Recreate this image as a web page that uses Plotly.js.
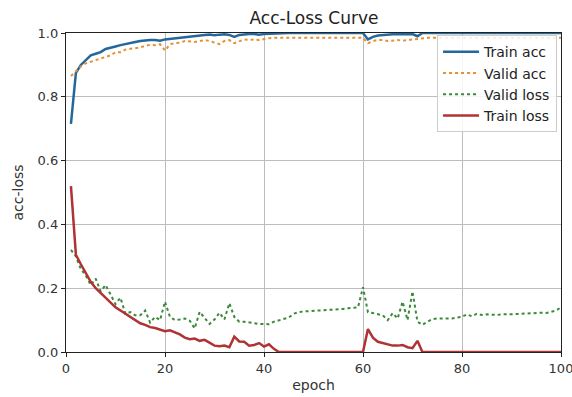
<!DOCTYPE html>
<html>
<head>
<meta charset="utf-8">
<script src="https://cdn.plot.ly/plotly-3.0.1.min.js"></script>
<style>html,body{margin:0;padding:0;background:#fff;}#chart{width:572px;height:397px;}</style>
</head>
<body>
<div id="chart"></div>
<script>
const epochs = [1,2,3,4,5,6,7,8,9,10,11,12,13,14,15,16,17,18,19,20,21,22,23,24,25,26,27,28,29,30,31,32,33,34,35,36,37,38,39,40,41,42,43,44,45,46,47,48,49,50,51,52,53,54,55,56,57,58,59,60,61,62,63,64,65,66,67,68,69,70,71,72,73,74,75,76,77,78,79,80,81,82,83,84,85,86,87,88,89,90,91,92,93,94,95,96,97,98,99,100];

const trainAcc = [0.715,0.875,0.900,0.915,0.930,0.935,0.940,0.950,0.955,0.958,
  0.962,0.966,0.968,0.972,0.975,0.977,0.978,0.978,0.976,0.980,
  0.982,0.983,0.985,0.988,0.990,0.990,0.992,0.994,0.995,0.993,
  0.995,0.996,0.994,0.988,0.994,0.996,0.997,0.997,0.995,0.997,
  0.998,0.997,1.0,1.0,1.0,1.0,1.0,1.0,1.0,1.0,
  1.0,1.0,1.0,1.0,1.0,1.0,1.0,1.0,1.0,1.0,
  0.980,0.988,0.992,0.994,0.995,0.996,0.996,0.997,0.996,0.997,
  0.990,1.0,1.0,1.0,1.0,1.0,1.0,1.0,1.0,1.0,
  1.0,1.0,1.0,1.0,1.0,1.0,1.0,1.0,1.0,1.0,
  1.0,1.0,1.0,1.0,1.0,1.0,1.0,1.0,1.0,1.0];

const validAcc = [0.865,0.880,0.895,0.905,0.910,0.915,0.920,0.925,0.930,0.940,
  0.940,0.948,0.950,0.952,0.955,0.960,0.963,0.962,0.965,0.945,
  0.965,0.968,0.970,0.975,0.973,0.972,0.975,0.978,0.975,0.970,
  0.965,0.975,0.978,0.968,0.975,0.980,0.978,0.980,0.978,0.982,
  0.984,0.985,0.985,0.985,0.985,0.985,0.985,0.985,0.985,0.985,
  0.985,0.985,0.985,0.985,0.985,0.985,0.985,0.985,0.985,0.985,
  0.968,0.975,0.978,0.978,0.975,0.976,0.978,0.976,0.978,0.980,
  0.982,0.985,0.985,0.985,0.985,0.985,0.985,0.985,0.985,0.985,
  0.985,0.985,0.985,0.985,0.985,0.985,0.985,0.985,0.985,0.985,
  0.985,0.985,0.985,0.985,0.985,0.985,0.985,0.985,0.985,0.985];

const validLoss = [0.320,0.300,0.260,0.240,0.210,0.230,0.190,0.210,0.180,0.150,
  0.170,0.120,0.125,0.115,0.115,0.130,0.092,0.110,0.100,0.158,
  0.110,0.100,0.102,0.105,0.098,0.074,0.126,0.106,0.088,0.102,
  0.123,0.102,0.153,0.110,0.095,0.095,0.092,0.090,0.088,0.088,
  0.087,0.095,0.100,0.105,0.108,0.120,0.125,0.127,0.128,0.128,
  0.130,0.130,0.130,0.132,0.133,0.135,0.137,0.138,0.140,0.203,
  0.125,0.122,0.118,0.115,0.100,0.122,0.105,0.158,0.100,0.190,
  0.095,0.085,0.095,0.103,0.105,0.105,0.105,0.105,0.108,0.110,
  0.118,0.112,0.120,0.116,0.118,0.117,0.116,0.118,0.117,0.118,
  0.119,0.120,0.121,0.120,0.122,0.123,0.122,0.125,0.130,0.140];

const trainLoss = [0.520,0.305,0.275,0.245,0.220,0.200,0.185,0.170,0.155,0.140,
  0.130,0.120,0.110,0.100,0.090,0.085,0.078,0.075,0.070,0.065,
  0.068,0.062,0.055,0.045,0.040,0.042,0.035,0.038,0.030,0.020,
  0.018,0.020,0.015,0.048,0.033,0.032,0.020,0.022,0.028,0.017,
  0.024,0.010,0.0,0.0,0.0,0.0,0.0,0.0,0.0,0.0,
  0.0,0.0,0.0,0.0,0.0,0.0,0.0,0.0,0.0,0.0,
  0.072,0.045,0.032,0.028,0.025,0.020,0.020,0.022,0.015,0.012,
  0.035,0.0,0.0,0.0,0.0,0.0,0.0,0.0,0.0,0.0,
  0.0,0.0,0.0,0.0,0.0,0.0,0.0,0.0,0.0,0.0,
  0.0,0.0,0.0,0.0,0.0,0.0,0.0,0.0,0.0,0.0];

const seriesNames = ['Train acc','Valid acc','Valid loss','Train loss'];
const xTickVals = [0,20,40,60,80,100];
const xTickText = ['0','20','40','60','80','100'];
const yTickVals = [0.0,0.2,0.4,0.6,0.8,1.0];
const yTickText = ['0.0','0.2','0.4','0.6','0.8','1.0'];

const font = 'DejaVu Sans, sans-serif';
const traces = [
  {x: epochs, y: trainAcc, name: seriesNames[0], legendgroup: 'a', mode: 'lines', line: {color: '#24679b', width: 2.5}},
  {x: epochs, y: validAcc, name: seriesNames[1], legendgroup: 'b', mode: 'lines', line: {color: '#e8902e', width: 2, dash: 'dot'}},
  {x: epochs, y: validLoss, name: seriesNames[2], legendgroup: 'c', mode: 'lines', line: {color: '#3a8a3a', width: 2, dash: 'dot'}},
  {x: epochs, y: trainLoss, name: seriesNames[3], legendgroup: 'd', mode: 'lines', line: {color: '#b03234', width: 2.5}}
];

const axisCommon = {
  showline: true, mirror: true, linecolor: '#222', linewidth: 1.2,
  showgrid: true, gridcolor: '#bdbdbd', gridwidth: 1,
  ticks: 'outside', ticklen: 4, tickcolor: '#222', tickwidth: 1,
  zeroline: false, ticklabeloverflow: 'allow',
  tickfont: {family: font, size: 13, color: '#333'}
};

const layout = {
  width: 572, height: 397,
  margin: {l: 66, r: 11, t: 33, b: 45},
  paper_bgcolor: '#fff', plot_bgcolor: '#fff',
  title: {text: 'Acc-Loss Curve', font: {family: font, size: 17, color: '#222'}, x: 0.549, xanchor: 'center', y: 0.955, yanchor: 'middle'},
  xaxis: Object.assign({}, axisCommon, {
    range: [-0.001, 100.001], tickvals: xTickVals, ticktext: xTickText,
    title: {text: 'epoch', font: {family: font, size: 14, color: '#333'}, standoff: 5}
  }),
  yaxis: Object.assign({}, axisCommon, {
    range: [0, 1.0001], tickvals: yTickVals, ticktext: yTickText,
    title: {text: 'acc-loss', font: {family: font, size: 14, color: '#333'}, standoff: 10}
  }),
  showlegend: true,
  legend: {
    x: 0.992, y: 0.993, xanchor: 'right', yanchor: 'top',
    bgcolor: 'rgba(255,255,255,0.85)', bordercolor: '#cccccc', borderwidth: 1,
    font: {family: font, size: 14, color: '#222'},
    traceorder: 'normal', tracegroupgap: 6, itemwidth: 36
  }
};

Plotly.newPlot('chart', traces, layout, {displayModeBar: false, staticPlot: true});
</script>
</body>
</html>
